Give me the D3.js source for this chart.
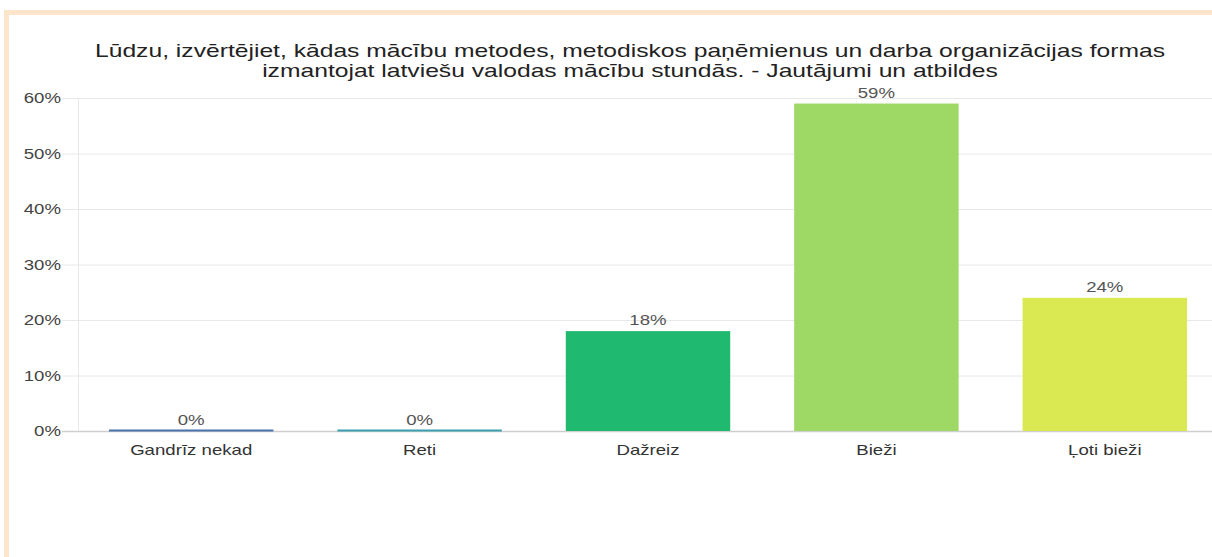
<!DOCTYPE html>
<html><head><meta charset="utf-8">
<script src="https://cdn.jsdelivr.net/npm/d3@7"></script>
<style>
html,body{margin:0;padding:0;background:#fff;}
svg{display:block;font-family:"Liberation Sans",Arial,sans-serif;}
</style></head>
<body><svg id="c" width="1212" height="557"></svg>
<script>
const titleLines = ["Lūdzu, izvērtējiet, kādas mācību metodes, metodiskos paņēmienus un darba organizācijas formas",
                    "izmantojat latviešu valodas mācību stundās. - Jautājumi un atbildes"];
const categories = ["Gandrīz nekad","Reti","Dažreiz","Bieži","Ļoti bieži"];
const values = [0,0,18,59,24];
const colors = ["#4a72ab","#3c9fb0","#1fba6f","#9ed865","#dae852"];
const yTicks = [0,10,20,30,40,50,60];

const SX = 1.33; // horizontal stretch of text seen in reference
const svg = d3.select("#c");
// frame
svg.append("rect").attr("x",4).attr("y",10).attr("width",1208).attr("height",5).attr("fill","#fde5cc");
svg.append("rect").attr("x",4).attr("y",10).attr("width",5).attr("height",547).attr("fill","#fde5cc");

const x = d3.scaleBand().domain(categories).range([77,1219]).paddingInner(0.28).paddingOuter(0.14);
const y = d3.scaleLinear().domain([0,60]).range([431,98]);

// gridlines
svg.append("g").selectAll("line").data(yTicks).join("line")
  .attr("x1",62).attr("x2",1212).attr("y1",d=>y(d)+0.5).attr("y2",d=>y(d)+0.5)
  .attr("stroke",d=>d===0?"#cfcfcf":"#e8e8e8").attr("stroke-width",d=>d===0?1.5:1);
svg.append("line").attr("x1",78.5).attr("x2",78.5).attr("y1",98).attr("y2",431).attr("stroke","#e8e8e8");

// y labels
svg.append("g").selectAll("text").data(yTicks).join("text")
  .attr("transform",d=>`translate(61,${y(d)+5}) scale(${SX},1)`).attr("text-anchor","end")
  .attr("font-size",14).attr("fill","#444").text(d=>d+"%");

// bars
svg.append("g").selectAll("rect").data(values).join("rect")
  .attr("x",(d,i)=>x(categories[i])).attr("width",x.bandwidth())
  .attr("y",d=>Math.min(y(d),429.5)).attr("height",d=>Math.max(431-y(d),2))
  .attr("fill",(d,i)=>colors[i]);

// value labels
svg.append("g").selectAll("text").data(values).join("text")
  .attr("transform",(d,i)=>`translate(${x(categories[i])+x.bandwidth()/2},${y(d)-6}) scale(${SX},1)`)
  .attr("text-anchor","middle").attr("font-size",14).attr("fill","#555").text(d=>d+"%");

// category labels
svg.append("g").selectAll("text").data(categories).join("text")
  .attr("transform",d=>`translate(${x(d)+x.bandwidth()/2},455) scale(${SX},1)`)
  .attr("text-anchor","middle").attr("font-size",14).attr("fill","#333").text(d=>d);

// title
svg.append("g").selectAll("text").data(titleLines).join("text")
  .attr("transform",(d,i)=>`translate(630,${57+i*20}) scale(1.37,1)`).attr("text-anchor","middle")
  .attr("font-size",18).attr("fill","#222").text(d=>d);
</script></body></html>
